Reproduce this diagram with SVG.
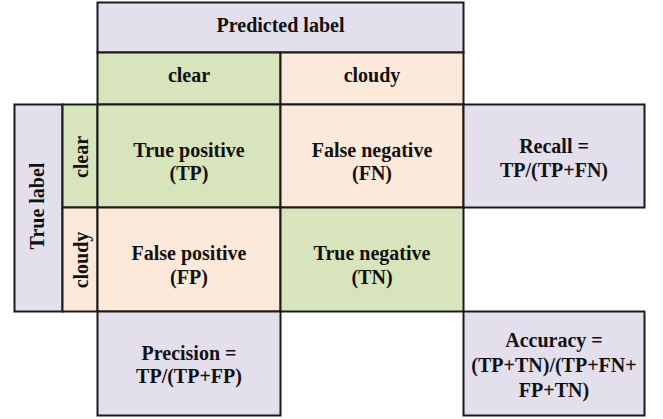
<svg xmlns="http://www.w3.org/2000/svg" width="663" height="419" viewBox="0 0 663 419">
<style>
.box{stroke:#1a1a1a;stroke-width:2}
.lav{fill:#E4DFEC}
.grn{fill:#D8E4BC}
.pch{fill:#FDE9D9}
.t{font-family:'Liberation Serif',serif;font-weight:700;font-size:20px;fill:#111;text-anchor:middle}
</style>
<rect width="663" height="419" fill="#ffffff"/>
<g id="predicted-label"><rect class="box lav" x="97.5" y="2.5" width="366" height="50"/><text class="t" x="280.5" y="32">Predicted label</text></g>
<g id="pred-clear"><rect class="box grn" x="97.5" y="52.5" width="183" height="52"/><text class="t" x="189" y="82">clear</text></g>
<g id="pred-cloudy"><rect class="box pch" x="280.5" y="52.5" width="183" height="52"/><text class="t" x="372" y="82">cloudy</text></g>
<g id="true-label"><rect class="box lav" x="14.5" y="104.5" width="48" height="207"/><text class="t" transform="translate(44,206) rotate(-90)">True label</text></g>
<g id="true-clear"><rect class="box grn" x="62.5" y="104.5" width="35" height="103"/><text class="t" transform="translate(87.5,157) rotate(-90)">clear</text></g>
<g id="true-cloudy"><rect class="box pch" x="62.5" y="207.5" width="35" height="104"/><text class="t" transform="translate(87.5,260) rotate(-90)">cloudy</text></g>
<g id="tp"><rect class="box grn" x="97.5" y="104.5" width="183" height="103"/><text class="t" x="189" y="157">True positive</text><text class="t" x="189" y="180">(TP)</text></g>
<g id="fn"><rect class="box pch" x="280.5" y="104.5" width="183" height="103"/><text class="t" x="372" y="157">False negative</text><text class="t" x="372" y="180">(FN)</text></g>
<g id="fp"><rect class="box pch" x="97.5" y="207.5" width="183" height="104"/><text class="t" x="189" y="260">False positive</text><text class="t" x="189" y="284">(FP)</text></g>
<g id="tn"><rect class="box grn" x="280.5" y="207.5" width="183" height="104"/><text class="t" x="372" y="260">True negative</text><text class="t" x="372" y="284">(TN)</text></g>
<g id="recall"><rect class="box lav" x="463.5" y="104.5" width="181" height="103"/><text class="t" x="554" y="153">Recall =</text><text class="t" x="554" y="177">TP/(TP+FN)</text></g>
<g id="precision"><rect class="box lav" x="97.5" y="311.5" width="183" height="104"/><text class="t" x="189" y="360">Precision =</text><text class="t" x="189" y="383">TP/(TP+FP)</text></g>
<g id="accuracy"><rect class="box lav" x="463.5" y="311.5" width="181" height="104"/><text class="t" x="554" y="347">Accuracy =</text><text class="t" x="554" y="372">(TP+TN)/(TP+FN+</text><text class="t" x="554" y="397">FP+TN)</text></g>
<g id="connectors"></g>
</svg>
